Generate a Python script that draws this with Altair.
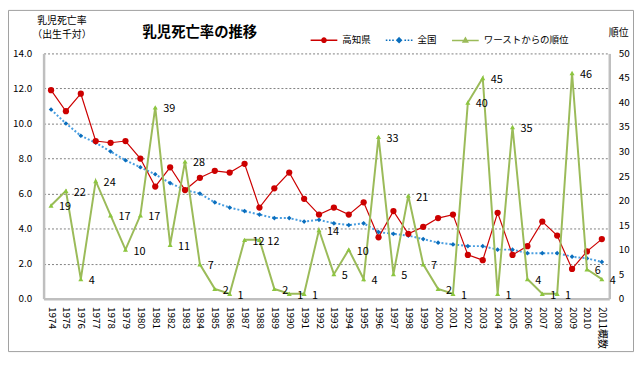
import altair as alt
import pandas as pd

FONT = "Noto Sans CJK JP"

years = [str(y) for y in range(1974, 2011)] + ["2011概数"]
kochi = [11.9, 10.7, 11.7, 9.0, 8.9, 9.0, 8.0, 6.4, 7.5, 6.2, 6.9, 7.3, 7.2, 7.7, 5.2, 6.3, 7.2, 5.7, 4.8, 5.2,
         4.8, 5.5, 3.5, 5.0, 3.7, 4.1, 4.6, 4.8, 2.5, 2.2, 4.9, 2.5, 3.0, 4.4, 3.6, 1.7, 2.7, 3.4]
national = [10.8, 10.0, 9.3, 8.9, 8.4, 7.9, 7.5, 7.1, 6.6, 6.2, 6.0, 5.5, 5.2, 5.0, 4.8, 4.6, 4.6, 4.4, 4.5, 4.3,
            4.2, 4.3, 3.8, 3.7, 3.6, 3.4, 3.2, 3.1, 3.0, 3.0, 2.8, 2.8, 2.6, 2.6, 2.6, 2.4, 2.3, 2.1]
rank = [19, 22, 4, 24, 17, 10, 17, 39, 11, 28, 7, 2, 1, 12, 12, 2, 1, 1, 14, 5,
        10, 4, 33, 5, 21, 7, 2, 1, 40, 45, 1, 35, 4, 1, 1, 46, 6, 4]

series_names = ["高知県", "全国", "ワーストからの順位"]
left_ticks = [0, 2, 4, 6, 8, 10, 12, 14]
right_ticks = [0, 5, 10, 15, 20, 25, 30, 35, 40, 45, 50]

df = pd.DataFrame({"year": years, "kochi": kochi, "national": national, "rank": rank})

W, H = 572, 248
RED, BLUE_LINE, BLUE_PT, GREEN = "#cc0000", "#4a9ee0", "#0a6ebd", "#9bbb59"
AXIS_GRAY = "#bfbfbf"

P_RED = ("M-1,0L1,0M-0.16,0A0.16,0.16,0,1,0,0.16,0A0.16,0.16,0,1,0,-0.16,0Z"
         "M-0.06,0A0.06,0.06,0,1,0,0.06,0A0.06,0.06,0,1,0,-0.06,0Z")
P_BLUE = ("M-1,0L-0.88,0M-0.76,0L-0.64,0M-0.52,0L-0.40,0M0.40,0L0.52,0M0.64,0L0.76,0M0.88,0L1,0"
          "M0,-0.17L0.17,0L0,0.17L-0.17,0ZM0,-0.07L0.07,0L0,0.07L-0.07,0Z")
P_GREEN = "M-1,0L1,0M0,-0.19L0.17,0.11L-0.17,0.11ZM0,-0.08L0.07,0.05L-0.07,0.05Z"
sym_expr = (f"datum.value === '高知県' ? '{P_RED}' : "
            f"(datum.value === '全国' ? '{P_BLUE}' : '{P_GREEN}')")

x_axis = alt.Axis(title=None, labelAngle=90, labelAlign="left", labelBaseline="middle",
                  labelPadding=8, ticks=False, tickSize=0, grid=False,
                  domainColor=AXIS_GRAY, domainWidth=2.5,
                  labelFont=FONT, labelFontSize=10, labelColor="black")
x_scale = alt.Scale(type="point", padding=0.5)


def xe():
    return alt.X("year:N", sort=years, scale=x_scale, axis=x_axis)


left_axis = alt.Axis(values=left_ticks, format=".1f", ticks=False, tickSize=0, labelPadding=12,
                     grid=True, gridDash=[2, 2], gridColor="#808080", gridWidth=1,
                     domainColor=AXIS_GRAY, domainWidth=2.5,
                     labelFont=FONT, labelFontSize=10, labelColor="black",
                     title=["乳児死亡率", "（出生千対）"], titleAngle=0, titleX=18, titleY=-38,
                     titleAlign="center", titleBaseline="top", titleLineHeight=14,
                     titleFont=FONT, titleFontSize=10, titleFontWeight="normal", titleColor="black")
left_scale = alt.Scale(domain=[0, 14])

right_axis = alt.Axis(orient="right", values=right_ticks, ticks=False, tickSize=0, labelPadding=9,
                      grid=False, domainColor=AXIS_GRAY, domainWidth=2.5,
                      labelFont=FONT, labelFontSize=10, labelColor="black",
                      title="順位", titleAngle=0, titleX=9, titleY=-21,
                      titleAlign="center", titleBaseline="middle",
                      titleFont=FONT, titleFontSize=10, titleFontWeight="normal", titleColor="black")
right_scale = alt.Scale(domain=[0, 50])


def yl(field):
    return alt.Y(f"{field}:Q", scale=left_scale, axis=left_axis)


def yr():
    return alt.Y("rank:Q", scale=right_scale, axis=right_axis)


base = alt.Chart(df)

red_line = base.transform_calculate(series="'高知県'").mark_line(strokeWidth=1.2).encode(
    x=xe(), y=yl("kochi"),
    color=alt.Color("series:N", scale=alt.Scale(domain=series_names, range=[RED, BLUE_PT, GREEN]),
                    legend=alt.Legend(title=None, orient="none", legendX=269, legendY=-28,
                                      direction="horizontal", columns=3, columnPadding=12,
                                      symbolType={"expr": sym_expr}, symbolSize=729,
                                      symbolStrokeWidth=1.5, labelOffset=4,
                                      labelFont=FONT, labelFontSize=9.6, labelColor="black",
                                      labelLimit=200)))
red_pts = base.mark_point(filled=True, size=40, color=RED, opacity=1).encode(x=xe(), y=yl("kochi"))
blue_line = base.mark_line(color=BLUE_LINE, strokeWidth=2, strokeDash=[2, 2]).encode(
    x=xe(), y=yl("national"))
blue_pts = base.mark_point(filled=True, shape="diamond", size=22, color=BLUE_PT, opacity=1).encode(
    x=xe(), y=yl("national"))

left = alt.layer(blue_line, red_line, blue_pts, red_pts)

green_line = base.mark_line(color=GREEN, strokeWidth=2).encode(x=xe(), y=yr())
green_pts = base.mark_point(filled=True, shape="triangle-up", size=26, color="#8cc63f", opacity=1).encode(
    x=xe(), y=yr())
green_txt = base.mark_text(align="left", baseline="middle", dx=8, dy=2, font=FONT, fontSize=11,
                           color="black").encode(x=xe(), y=yr(), text="rank:Q")

right = alt.layer(green_line, green_pts, green_txt)

frame = alt.Chart(alt.InlineData(values=[{"k": 1}])).mark_rect(
    fillOpacity=0, stroke="#a0a0a0", strokeWidth=1).encode(
    x=alt.value(-35.5), x2=alt.value(W + 24.5), y=alt.value(-43.5), y2=alt.value(H + 53.5))

title = alt.Chart(alt.InlineData(values=[{"k": 1}])).mark_text(
    align="left", baseline="middle", font=FONT, fontSize=14.5, fontWeight="bold", color="black").encode(
    x=alt.value(100), y=alt.value(-21), text=alt.value("乳児死亡率の推移"))

chart = alt.layer(left, right, frame, title).resolve_scale(y="independent").properties(
    width=W, height=H,
    padding={"left": 36, "top": 44, "right": 25, "bottom": 54},
    autosize=alt.AutoSizeParams(type="none"),
).configure_view(stroke="transparent")

chart.save("out.html", embed_options={"renderer": "svg", "actions": False})
